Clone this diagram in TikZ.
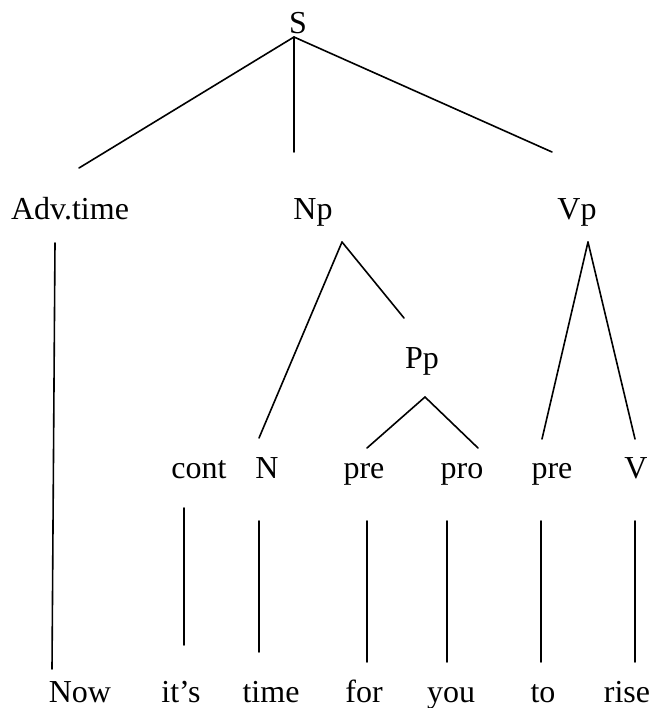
\documentclass[tikz,border=0pt]{standalone}
\usepackage{fontspec}
\setmainfont{Liberation Serif}
\usepackage{tikz}
\tikzset{
  lbl/.style={anchor=base, inner sep=0pt, font=\fontsize{16}{19}\selectfont},
  branch/.style={line width=0.8pt, line cap=round}
}

\begin{document}
\begin{tikzpicture}[x=0.5pt, y=-0.5pt]
\useasboundingbox (0,0) rectangle (649,708);

% Category labels
\node[lbl] (S) at (298,33) {S};
\node[lbl] (adv) at (70,219) {Adv.time};
\node[lbl] (np) at (313,219) {Np};
\node[lbl] (vp) at (577,219) {Vp};
\node[lbl] (pp) at (422,368) {Pp};
\node[lbl] (cont) at (199,478) {cont};
\node[lbl] (n) at (267,478) {N};
\node[lbl] (preA) at (364,478) {pre};
\node[lbl] (pro) at (462,478) {pro};
\node[lbl] (preB) at (552,478) {pre};
\node[lbl] (v) at (636,478) {V};

% Words
\node[lbl] (now) at (80,702) {Now};
\node[lbl] (its) at (181,702) {it’s};
\node[lbl] (time) at (271,702) {time};
\node[lbl] (for) at (364,702) {for};
\node[lbl] (you) at (451,702) {you};
\node[lbl] (to) at (543,702) {to};
\node[lbl] (rise) at (627,702) {rise};

% Branch points
\coordinate (S-root) at (294,37);
\coordinate (adv-up) at (79,168);
\coordinate (np-up) at (294,152);
\coordinate (vp-up) at (552,152);
\coordinate (adv-down) at (55,243);
\coordinate (now-up) at (52,669);
\coordinate (np-root) at (342,242);
\coordinate (n-up) at (259,438);
\coordinate (pp-up) at (404,318);
\coordinate (pp-root) at (425,397);
\coordinate (preA-up) at (367,448);
\coordinate (pro-up) at (478,448);
\coordinate (vp-root) at (588,242);
\coordinate (preB-up) at (542,439);
\coordinate (v-up) at (635,439);

% Tree
\draw[branch] (S-root) -- (adv-up);
\draw[branch] (S-root) -- (np-up);
\draw[branch] (S-root) -- (vp-up);
\draw[branch] (adv-down) -- (now-up);
\draw[branch] (np-root) -- (n-up);
\draw[branch] (np-root) -- (pp-up);
\draw[branch] (pp-root) -- (preA-up);
\draw[branch] (pp-root) -- (pro-up);
\draw[branch] (vp-root) -- (preB-up);
\draw[branch] (vp-root) -- (v-up);

% Lexical links
\foreach \x/\a/\b in {184/508/645, 259/521/652, 367/521/662, 447/521/662, 541/521/662, 635/521/662}
  \draw[branch] (\x,\a) -- (\x,\b);
\end{tikzpicture}
\end{document}
